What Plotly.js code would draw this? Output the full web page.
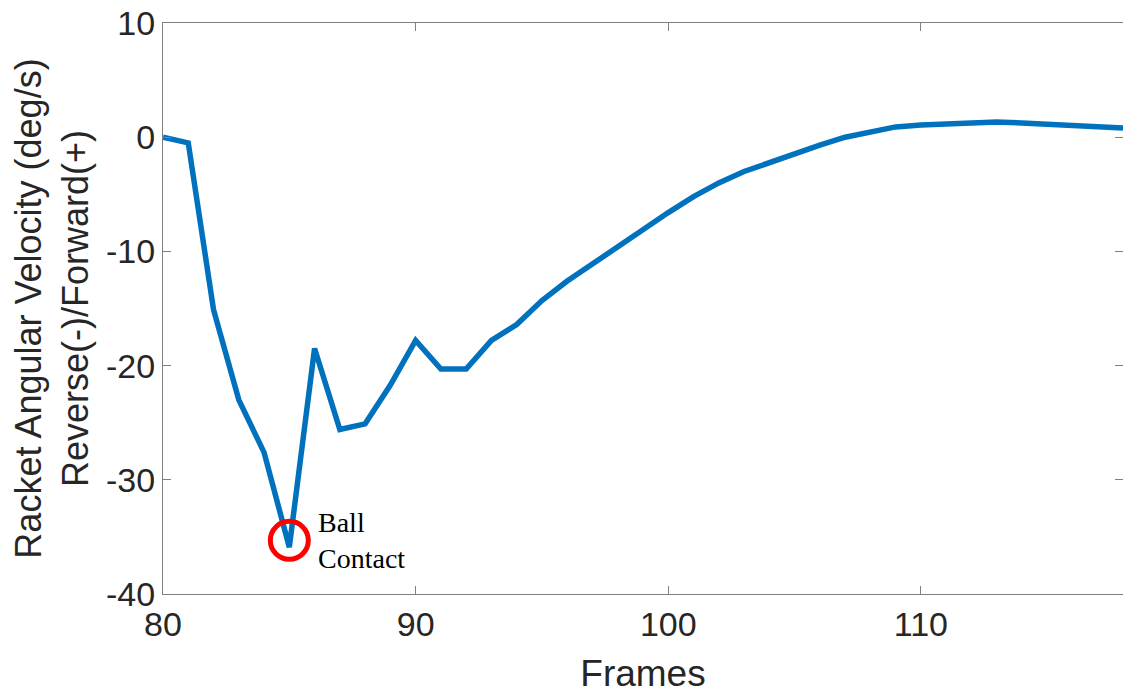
<!DOCTYPE html>
<html>
<head>
<meta charset="utf-8">
<script src="https://cdn.plot.ly/plotly-3.0.1.min.js"></script>
<style>html,body{margin:0;padding:0;background:#fff;}#chart{width:1123px;height:696px;}</style>
</head>
<body>
<div id="chart"></div>
<script>
const frames = [80,81,82,83,84,85,86,87,88,89,90,91,92,93,94,95,96,97,98,99,100,101,102,103,104,105,106,107,108,109,110,111,112,113,114,115,116,117,118];
const angularVelocity = [0,-0.5,-15.1,-23.0,-27.6,-35.9,-18.5,-25.6,-25.1,-21.7,-17.8,-20.3,-20.3,-17.8,-16.4,-14.3,-12.6,-11.1,-9.5,-8.1,-6.6,-5.2,-4.0,-3.0,-2.2,-1.4,-0.7,0,0.5,0.9,1.07,1.15,1.25,1.33,1.25,1.15,1.05,0.9,0.8];
const contactFrame = [85];
const contactValue = [-35.3];
const contactLabel = 'Ball<br>Contact';
const xTicks = [80,90,100,110];
const yTicks = [-40,-30,-20,-10,0,10];

const axisCommon = {
  showline: true, mirror: 'ticks', linecolor: '#808080', linewidth: 1,
  ticks: 'inside', ticklen: 8, tickcolor: '#808080', tickwidth: 1,
  showgrid: false, zeroline: false,
  tickfont: {family: 'Liberation Sans, Arial, sans-serif', size: 34, color: '#262626'}
};

const data = [
  {x: frames, y: angularVelocity, type: 'scatter', mode: 'lines',
   line: {color: '#0072BD', width: 5.5}, hoverinfo: 'skip'},
  {x: contactFrame, y: contactValue, type: 'scatter', mode: 'markers',
   marker: {symbol: 'circle-open', size: 38, color: '#FF0000', line: {color: '#FF0000', width: 5}}, hoverinfo: 'skip'}
];

const layout = {
  width: 1123, height: 696,
  margin: {l: 163, r: 0, t: 23, b: 102},
  paper_bgcolor: '#ffffff', plot_bgcolor: '#ffffff',
  showlegend: false,
  xaxis: Object.assign({}, axisCommon, {
    range: [80, 118], tickvals: xTicks, ticktext: xTicks.map(String),
    title: {text: 'Frames', font: {family: 'Liberation Sans, Arial, sans-serif', size: 37, color: '#262626'}, standoff: 18}
  }),
  yaxis: Object.assign({}, axisCommon, {
    range: [-40, 10], tickvals: yTicks, ticktext: yTicks.map(String),
    title: {text: 'Racket Angular Velocity (deg/s)<br>Reverse(-)/Forward(+)', font: {family: 'Liberation Sans, Arial, sans-serif', size: 36, color: '#262626'}, standoff: 6}
  }),
  annotations: [{
    x: contactFrame[0], y: contactValue[0], xref: 'x', yref: 'y',
    text: contactLabel, showarrow: false, xanchor: 'left', yanchor: 'middle',
    xshift: 27, yshift: 0, align: 'left',
    font: {family: 'Liberation Serif, Times New Roman, serif', size: 28, color: '#000000'}
  }]
};

Plotly.newPlot('chart', data, layout, {staticPlot: true, displayModeBar: false});
</script>
</body>
</html>
